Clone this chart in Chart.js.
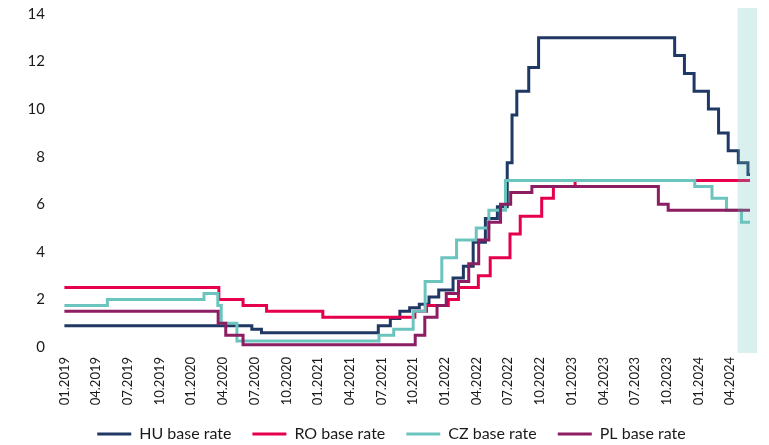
<!DOCTYPE html>
<html>
<head>
<meta charset="utf-8">
<script src="https://cdn.jsdelivr.net/npm/chart.js@4/dist/chart.umd.min.js"></script>
<style>
  html, body { margin: 0; padding: 0; background: #fff; }
  #wrap { width: 769px; height: 445px; }
</style>
</head>
<body>
<div id="wrap"><canvas id="rates"></canvas></div>
<script>
// x axis labels, one every 3 months
var tickLabels = ['01.2019', '04.2019', '07.2019', '10.2019', '01.2020', '04.2020', '07.2020', '10.2020',
  '01.2021', '04.2021', '07.2021', '10.2021', '01.2022', '04.2022', '07.2022', '10.2022',
  '01.2023', '04.2023', '07.2023', '10.2023', '01.2024', '04.2024'];
var yTicks = [0, 2, 4, 6, 8, 10, 12, 14];

// base rates: date of the change and the new rate
var huDates = ['2019-01-01', '2020-06-23', '2020-07-21', '2021-06-22', '2021-07-27', '2021-08-24', '2021-09-21',
  '2021-10-19', '2021-11-16', '2021-12-14', '2022-01-25', '2022-02-22', '2022-03-22', '2022-04-26', '2022-05-31',
  '2022-06-28', '2022-07-12', '2022-07-26', '2022-08-30', '2022-09-27', '2023-10-24', '2023-11-21', '2023-12-19',
  '2024-01-30', '2024-02-27', '2024-03-26', '2024-04-24', '2024-05-22'];
var huRates = [0.9, 0.75, 0.6, 0.9, 1.2, 1.5, 1.65,
  1.8, 2.1, 2.4, 2.9, 3.4, 4.4, 5.4, 5.9,
  7.75, 9.75, 10.75, 11.75, 13, 12.25, 11.5, 10.75,
  10, 9, 8.25, 7.75, 7.25];

var roDates = ['2019-01-01', '2020-03-20', '2020-05-29', '2020-08-05', '2021-01-15', '2021-10-06', '2021-11-09',
  '2022-01-11', '2022-02-09', '2022-04-06', '2022-05-10', '2022-07-06', '2022-08-05', '2022-10-06', '2022-11-09',
  '2023-01-11'];
var roRates = [2.5, 2.0, 1.75, 1.5, 1.25, 1.5, 1.75,
  2.0, 2.5, 3.0, 3.75, 4.75, 5.5, 6.25, 6.75,
  7.0];

var czDates = ['2019-01-01', '2019-05-03', '2020-02-07', '2020-03-17', '2020-03-27', '2020-05-11', '2021-06-24',
  '2021-08-06', '2021-10-01', '2021-11-05', '2021-12-23', '2022-02-04', '2022-03-31', '2022-05-06', '2022-06-23',
  '2023-12-21', '2024-02-09', '2024-03-21', '2024-05-03'];
var czRates = [1.75, 2.0, 2.25, 1.75, 1.0, 0.25, 0.5,
  0.75, 1.5, 2.75, 3.75, 4.5, 5.0, 5.75, 7.0,
  6.75, 6.25, 5.75, 5.25];

var plDates = ['2019-01-01', '2020-03-18', '2020-04-09', '2020-05-29', '2021-10-07', '2021-11-04', '2021-12-09',
  '2022-01-05', '2022-02-09', '2022-03-09', '2022-04-07', '2022-05-06', '2022-06-09', '2022-07-08', '2022-09-08',
  '2023-09-07', '2023-10-05'];
var plRates = [1.5, 1.0, 0.5, 0.1, 0.5, 1.25, 1.75,
  2.25, 2.75, 3.5, 4.5, 5.25, 6.0, 6.5, 6.75,
  6.0, 5.75];

var lastDate = '2024-05-28';
var axisFrom = '2018-12-22';
var shadeFrom = '2024-04-22';
var shadeTo = '2024-06-17';

// month number counted from 01.2019 (fractions for days)
function monthIndex(str) {
  var p = str.split('-');
  var y = parseInt(p[0]), m = parseInt(p[1]), d = parseInt(p[2]);
  var days = new Date(y, m, 0).getDate();
  return (y - 2019) * 12 + (m - 1) + (d - 1) / days;
}

function labelIndex(lbl) {
  var p = lbl.split('.');
  return (parseInt(p[1]) - 2019) * 12 + parseInt(p[0]) - 1;
}

function buildPoints(dates, rates) {
  var pts = new Array();
  for (let i = 0; i < dates.length; i++) {
    pts.push({ x: monthIndex(dates[i]), y: rates[i] });
  }
  pts.push({ x: monthIndex(lastDate), y: rates[rates.length - 1] });
  return pts;
}

function makeSet(label, dates, rates, color, order) {
  return {
    label: label,
    data: buildPoints(dates, rates),
    borderColor: color,
    backgroundColor: color,
    borderWidth: 3,
    pointRadius: 0,
    stepped: true,
    fill: false,
    order: order
  };
}

// light band over the last weeks, drawn on top of the lines
const shadeBand = {
  id: 'shadeBand',
  afterDatasetsDraw(chart) {
    const x = chart.scales.x;
    const area = chart.chartArea;
    const ctx = chart.ctx;
    let x0 = x.getPixelForValue(monthIndex(shadeFrom));
    let x1 = x.getPixelForValue(monthIndex(shadeTo));
    ctx.save();
    ctx.fillStyle = 'rgba(108, 196, 190, 0.25)';
    ctx.fillRect(x0, area.top, x1 - x0, area.bottom - area.top);
    ctx.restore();
  }
};

const FONT = 'Lato, "Open Sans", sans-serif';

new Chart(document.getElementById('rates'), {
  type: 'line',
  data: {
    datasets: [
      makeSet('HU base rate', huDates, huRates, '#1F3864', 4),
      makeSet('RO base rate', roDates, roRates, '#E6004C', 3),
      makeSet('CZ base rate', czDates, czRates, '#6CC4BE', 2),
      makeSet('PL base rate', plDates, plRates, '#8C1D62', 1)
    ]
  },
  options: {
    responsive: true,
    maintainAspectRatio: false,
    animation: false,
    layout: { padding: { top: 8, right: 12, left: 26, bottom: -7 } },
    scales: {
      x: {
        type: 'linear',
        min: monthIndex(axisFrom),
        max: monthIndex(shadeTo),
        grid: { display: false, drawTicks: false },
        border: { display: false },
        afterBuildTicks: function (scale) {
          scale.ticks = tickLabels.map(function (l) { return { value: labelIndex(l) }; });
        },
        afterFit: function (scale) {
          scale.height = 52;
          scale.paddingLeft = 0;
          scale.paddingRight = 0;
        },
        ticks: {
          autoSkip: false,
          maxRotation: 90,
          minRotation: 90,
          padding: 4,
          color: '#1a1a1a',
          font: { family: FONT, size: 13 },
          callback: function (value) {
            for (let i = 0; i < tickLabels.length; i++) {
              if (labelIndex(tickLabels[i]) == value) return tickLabels[i];
            }
            return '';
          }
        }
      },
      y: {
        min: -0.25,
        max: 14.25,
        grid: { display: false, drawTicks: false },
        border: { display: false },
        afterBuildTicks: function (scale) {
          scale.ticks = yTicks.map(function (v) { return { value: v }; });
        },
        afterFit: function (scale) {
          scale.width = 35;
          scale.paddingTop = 0;
          scale.paddingBottom = 0;
        },
        ticks: {
          padding: 16,
          color: '#1a1a1a',
          font: { family: FONT, size: 15 }
        }
      }
    },
    plugins: {
      legend: {
        position: 'bottom',
        labels: {
          usePointStyle: true,
          pointStyle: 'line',
          pointStyleWidth: 34,
          padding: 21,
          color: '#1a1a1a',
          font: { family: FONT, size: 16 },
          sort: function (a, b) { return a.datasetIndex - b.datasetIndex; }
        }
      },
      tooltip: { enabled: false }
    }
  },
  plugins: [shadeBand]
});
</script>
</body>
</html>
